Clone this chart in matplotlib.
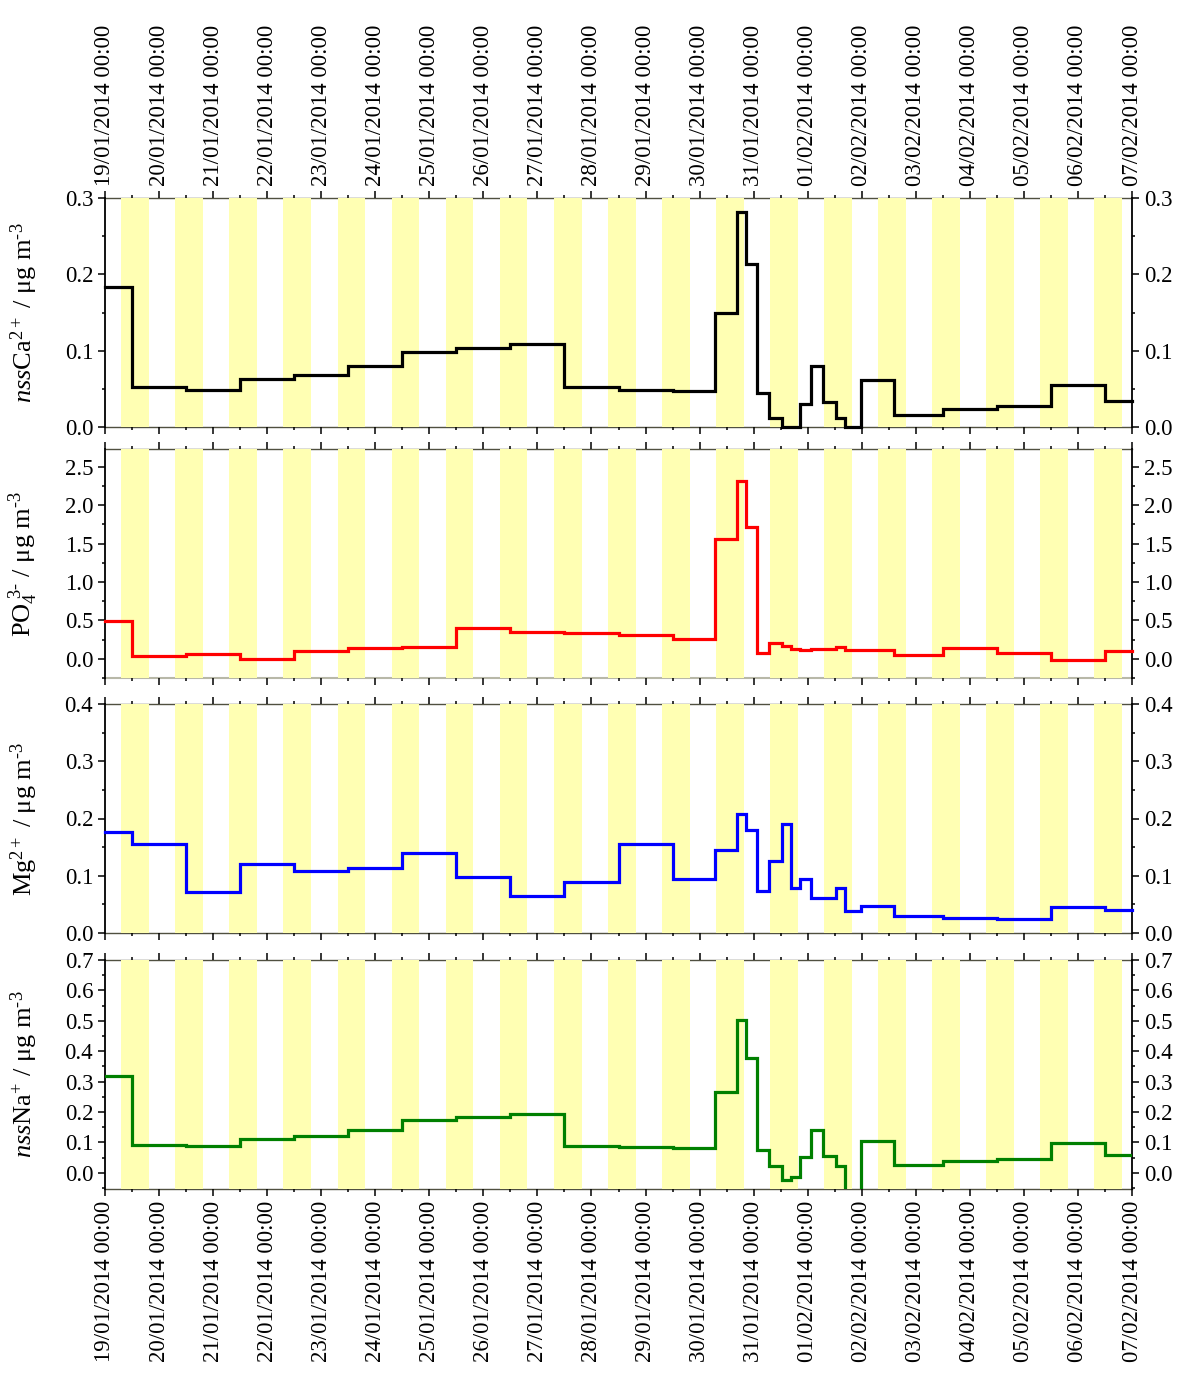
import matplotlib
matplotlib.use("Agg")
import matplotlib.pyplot as plt
import matplotlib.dates as mdates
import matplotlib.ticker as mticker
import numpy as np
import pandas as pd

plt.rcParams['font.family'] = ['Liberation Serif', 'DejaVu Serif']
plt.rcParams['mathtext.fontset'] = 'custom'
plt.rcParams['mathtext.rm'] = 'Liberation Serif'
plt.rcParams['mathtext.it'] = 'Liberation Serif:italic'
plt.rcParams['mathtext.bf'] = 'Liberation Serif:bold'

# ---- data: sample interval edges and values ----
edges = ["2014-01-19 00:00", "2014-01-19 12:00", "2014-01-20 12:00", "2014-01-21 12:00",
         "2014-01-22 12:00", "2014-01-23 12:00", "2014-01-24 12:00", "2014-01-25 12:00",
         "2014-01-26 12:00", "2014-01-27 12:00", "2014-01-28 12:00", "2014-01-29 12:00",
         "2014-01-30 07:00", "2014-01-30 16:30", "2014-01-30 20:30", "2014-01-31 01:30",
         "2014-01-31 07:00", "2014-01-31 12:30", "2014-01-31 16:30", "2014-01-31 20:30",
         "2014-02-01 01:30", "2014-02-01 07:00", "2014-02-01 12:30", "2014-02-01 16:30",
         "2014-02-01 23:30", "2014-02-02 14:30", "2014-02-03 12:00", "2014-02-04 12:00",
         "2014-02-05 12:00", "2014-02-06 12:00", "2014-02-07 00:00"]

nss_ca = [0.183, 0.052, 0.049, 0.063, 0.068, 0.080, 0.098, 0.104, 0.109, 0.052,
          0.048, 0.047, 0.150, 0.282, 0.213, 0.044, 0.012, 0.0, 0.0, 0.030,
          0.080, 0.033, 0.012, 0.0, 0.062, 0.016, 0.024, 0.027, 0.055, 0.034]
po4 = [0.49, 0.03, 0.065, 0.0, 0.10, 0.14, 0.15, 0.40, 0.35, 0.34,
       0.31, 0.26, 1.56, 2.32, 1.71, 0.07, 0.21, 0.17, 0.13, 0.11,
       0.13, 0.13, 0.15, 0.11, 0.11, 0.05, 0.14, 0.07, -0.01, 0.10]
mg = [0.176, 0.155, 0.072, 0.120, 0.108, 0.113, 0.140, 0.098, 0.065, 0.089,
      0.155, 0.095, 0.145, 0.208, 0.180, 0.074, 0.126, 0.190, 0.079, 0.094,
      0.062, 0.062, 0.079, 0.039, 0.048, 0.030, 0.027, 0.024, 0.045, 0.040]
nss_na = [0.32, 0.092, 0.088, 0.112, 0.120, 0.140, 0.175, 0.183, 0.192, 0.090,
          0.085, 0.081, 0.265, 0.503, 0.379, 0.076, 0.021, -0.023, -0.012, 0.052,
          0.140, 0.056, 0.021, -0.30, 0.106, 0.026, 0.040, 0.047, 0.098, 0.060]

# daylight bands (start, end time of day)
day_start = "07:15"
day_end = "19:35"

start = pd.Timestamp("2014-01-19 00:00")
end = pd.Timestamp("2014-02-07 00:00")

unit = r" / μg m$^{\text{-}3}$"
panels = [
    (nss_ca, 'black', r"$\mathit{nss}\mathrm{Ca}^{2+}$" + unit, (0.0, 0.3), 0.1, 0.05, False),
    (po4, '#ff0000', r"PO$_4^{\ 3\text{-}}$" + unit, (-0.25, 2.73), 0.5, 0.25, False),
    (mg, '#0000ff', r"Mg$^{2+}$" + unit, (0.0, 0.4), 0.1, 0.05, False),
    (nss_na, '#008000', r"$\mathit{nss}\mathrm{Na}^{+}$" + unit, (-0.053, 0.7), 0.1, 0.05, True),
]

W, H = 1184, 1396
fig = plt.figure(figsize=(W / 100, H / 100), dpi=100)
left = 105 / W
width = (1132 - 105) / W
tops = [198, 449, 704, 960]
ph = 229

edge_t = pd.to_datetime(edges)
days = pd.date_range(start, end - pd.Timedelta(days=1), freq='D')

for i, (vals, col, lab, ylim, maj, mnr, clip) in enumerate(panels):
    bottom = 1 - (tops[i] + ph) / H
    ax = fig.add_axes([left, bottom, width, ph / H])
    for d in days:
        s = d + pd.Timedelta(day_start + ":00")
        e = d + pd.Timedelta(day_end + ":00")
        ax.axvspan(s, e, color='#ffffb3', lw=0, zorder=1)
    y = list(vals) + [vals[-1]]
    ax.step(edge_t, y, where='post', color=col, lw=2.3, zorder=3,
            solid_joinstyle='miter', clip_on=clip)
    ax.set_xlim(start, end)
    ax.set_ylim(*ylim)
    ax.yaxis.set_major_locator(mticker.MultipleLocator(maj))
    ax.yaxis.set_minor_locator(mticker.MultipleLocator(mnr))
    ax.yaxis.set_major_formatter(mticker.FormatStrFormatter('%.1f'))
    ax.xaxis.set_major_locator(mdates.DayLocator())
    ax.xaxis.set_minor_locator(mdates.HourLocator(byhour=[12]))
    ax.xaxis.set_major_formatter(mdates.DateFormatter('%d/%m/%Y %H:%M'))
    ax.tick_params(axis='both', which='both', direction='out', top=True, right=True,
                   labelright=True, labelsize=16.5, width=1.1, color='black')
    ax.tick_params(which='major', length=5)
    ax.tick_params(which='minor', length=2.5)
    ax.tick_params(axis='x', labelbottom=(i == 3), labeltop=(i == 0), labelrotation=90)
    for sp in ['left', 'right']:
        ax.spines[sp].set_linewidth(1.3)
        ax.spines[sp].set_color('black')
    for sp in ['top', 'bottom']:
        ax.spines[sp].set_linewidth(1.0)
        ax.spines[sp].set_color('#505040')
        ax.spines[sp].set_zorder(0.5)
    if i == 1:
        ax.spines['bottom'].set_color('#b8b8a8')
        ax.spines['bottom'].set_linewidth(1.5)
    ax.set_ylabel(lab, fontsize=19, labelpad=6)
    ax.yaxis.set_label_coords(-0.063, 0.5)

fig.savefig("out.png", dpi=100)
